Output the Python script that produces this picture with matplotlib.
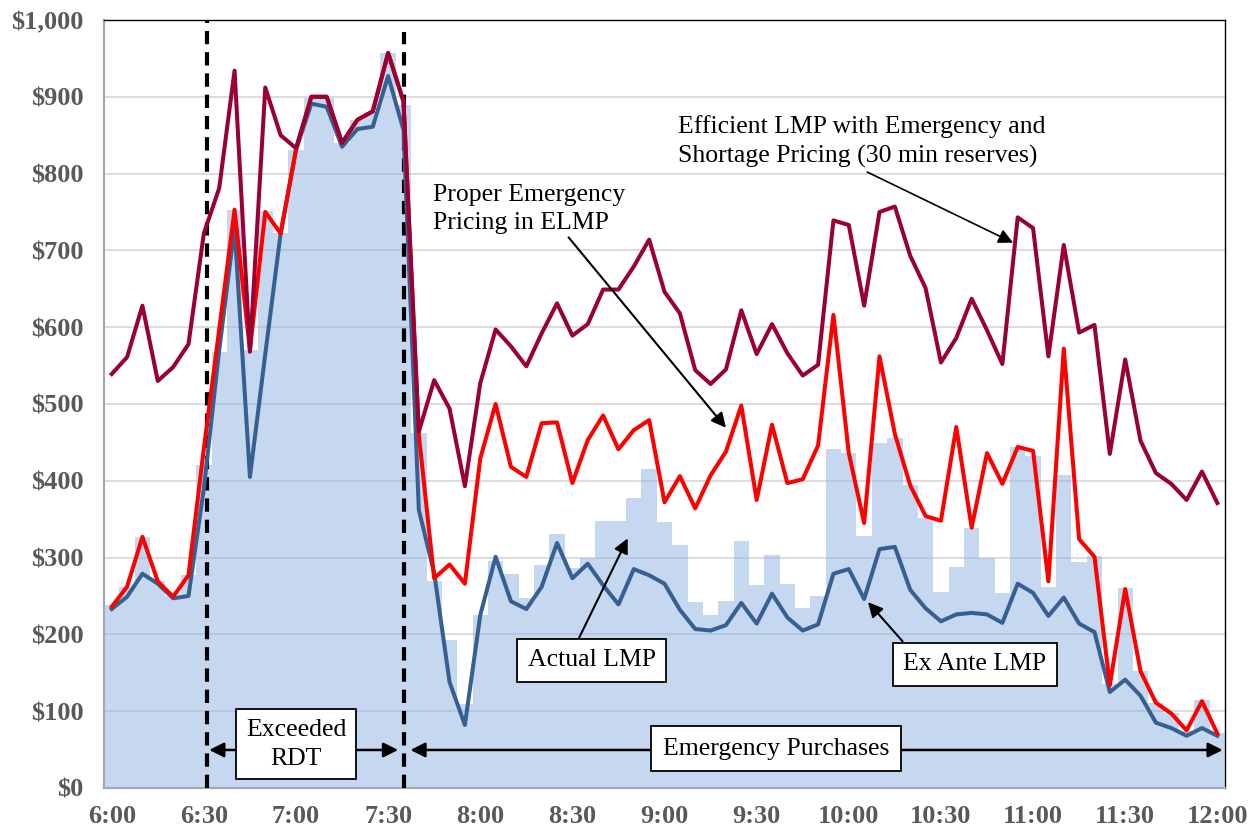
import numpy as np
import matplotlib
matplotlib.use("Agg")
import matplotlib.pyplot as plt

# 5-minute intervals, 6:00 to 12:00
times = [f"{6 + m // 60}:{m % 60:02d}" for m in range(0, 361, 5)]
tick_labels = ["6:00", "6:30", "7:00", "7:30", "8:00", "8:30", "9:00",
               "9:30", "10:00", "10:30", "11:00", "11:30", "12:00"]

# Actual LMP (bars)
actual_lmp = [238, 262, 327, 269, 250, 277, 420, 568, 753, 570, 751, 722, 831,
              898, 898, 840, 870, 880, 957, 889, 462, 270, 193, 110, 225, 296,
              279, 248, 290, 331, 286, 300, 347, 347, 378, 415, 346, 316, 242,
              225, 244, 321, 264, 303, 265, 234, 250, 441, 436, 328, 449, 456,
              394, 351, 255, 288, 338, 300, 254, 444, 432, 262, 407, 294, 302,
              135, 260, 152, 111, 97, 74, 115, 71]

# Ex Ante LMP
ex_ante_lmp = [233, 249, 279, 266, 247, 250, 390, 570, 730, 405, 565, 722, 831,
               891, 887, 835, 858, 861, 927, 857, 362, 280, 138, 82, 225, 301,
               243, 233, 262, 319, 273, 292, 264, 239, 285, 277, 266, 232, 207,
               205, 212, 241, 214, 253, 222, 205, 213, 279, 285, 246, 311, 314,
               258, 234, 217, 226, 228, 226, 215, 266, 254, 224, 248, 214, 203,
               125, 141, 120, 85, 78, 68, 78, 68]

# Proper Emergency Pricing in ELMP
proper_elmp = [236, 262, 327, 269, 249, 277, 442, 597, 753, 570, 750, 722, 831,
               900, 900, 840, 870, 881, 957, 894, 460, 273, 291, 266, 429, 500,
               418, 405, 475, 476, 397, 453, 485, 441, 466, 479, 372, 406, 364,
               407, 438, 498, 375, 473, 397, 402, 446, 616, 436, 345, 562, 461,
               394, 354, 348, 470, 339, 436, 396, 444, 439, 269, 572, 324, 301,
               134, 259, 152, 111, 97, 75, 113, 71]

# Efficient LMP with Emergency and Shortage Pricing (30 min reserves)
efficient_lmp = [539, 561, 628, 530, 548, 578, 722, 781, 934, 568, 912, 850, 833,
                 900, 900, 840, 870, 881, 957, 894, 464, 531, 494, 393, 527, 597,
                 575, 549, 592, 631, 589, 604, 649, 649, 679, 714, 646, 618, 544,
                 526, 545, 622, 565, 604, 566, 537, 551, 739, 733, 628, 750, 757,
                 693, 651, 554, 586, 637, 596, 552, 743, 729, 562, 707, 593, 603,
                 435, 558, 452, 410, 396, 375, 412, 371]

plt.rcParams['font.family'] = ['Liberation Serif', 'DejaVu Serif']

fig = plt.figure(figsize=(12.55, 8.32), dpi=100)
ax = fig.add_axes([0.0829, 0.0529, 0.8932, 0.9231])

x = np.arange(len(times))
ax.bar(x, actual_lmp, width=1.0, color='#8DB3E2', alpha=0.5, zorder=3, linewidth=0)
ax.plot(x, ex_ante_lmp, color='#376092', lw=2.9, zorder=5)
ax.plot(x, proper_elmp, color='#FF0000', lw=2.9, zorder=6)
ax.plot(x, efficient_lmp, color='#990033', lw=2.9, zorder=7)

# period boundaries
ax.plot([6.2, 6.2], [0, 1000], color='black', lw=3, dashes=(3.2, 1.9), zorder=4, clip_on=False)
ax.plot([19.05, 19.05], [0, 984], color='black', lw=3, dashes=(3.2, 1.9), zorder=4, clip_on=False)

ax.set_xlim(-0.5, 72.5)
ax.set_ylim(0, 1000)
ax.set_xticks(x[::6])
ax.set_xticklabels(tick_labels)
yt = np.arange(0, 1001, 100)
ax.set_yticks(yt)
ax.set_yticklabels([f"${v:,}" for v in yt])
ax.tick_params(length=0, labelsize=19, labelcolor='#595959')
ax.tick_params(axis='y', pad=15)
ax.tick_params(axis='x', pad=12)
for lab in ax.get_xticklabels() + ax.get_yticklabels():
    lab.set_fontweight('bold')

ax.grid(axis='y', color='#D9D9D9', lw=1.3, zorder=1)
ax.set_axisbelow(True)
for s in ['left', 'bottom']:
    ax.spines[s].set_color('#A6A6A6')
    ax.spines[s].set_linewidth(1.6)
for s in ['top', 'right']:
    ax.spines[s].set_color('black')
    ax.spines[s].set_linewidth(1.0)

box = dict(boxstyle='square,pad=0.4', fc='white', ec='black', lw=1.3)
arrow = dict(arrowstyle='-|>', color='black', lw=1.5, mutation_scale=22, shrinkA=0, shrinkB=0)
txt = dict(fontsize=18.5, color='black', zorder=10)

# Exceeded RDT
ax.annotate('', xy=(6.35, 49.5), xytext=(18.65, 49.5),
            arrowprops=dict(arrowstyle='<|-|>', color='black', lw=1.8, mutation_scale=22,
                            shrinkA=0, shrinkB=0), zorder=9)
ax.text(12.0, 57, 'Exceeded\nRDT', ha='center', va='center',
        bbox=dict(boxstyle='square,pad=0.38', fc='white', ec='black', lw=1.3),
        linespacing=1.4, **txt)

# Emergency Purchases
ax.annotate('', xy=(19.45, 49.5), xytext=(72.35, 49.5),
            arrowprops=dict(arrowstyle='<|-|>', color='black', lw=1.8, mutation_scale=22,
                            shrinkA=0, shrinkB=0), zorder=9)
ax.text(43.25, 51, 'Emergency Purchases', ha='center', va='center',
        bbox=dict(boxstyle='square,pad=0.45', fc='white', ec='black', lw=1.3), **txt)

# Actual LMP
ax.annotate('', xy=(33.6, 325), xytext=(30.4, 194), arrowprops=arrow, zorder=9)
ax.text(31.25, 166, 'Actual LMP', ha='center', va='center', bbox=box, **txt)

# Ex Ante LMP
ax.annotate('', xy=(49.25, 242), xytext=(51.5, 191), arrowprops=arrow, zorder=9)
ax.text(56.2, 161, 'Ex Ante LMP', ha='center', va='center', bbox=box, **txt)

# Efficient LMP
ax.annotate('', xy=(58.7, 710), xytext=(49.2, 802),
            arrowprops=dict(arrowstyle='-|>', color='black', lw=1.2, mutation_scale=22,
                            shrinkA=0, shrinkB=0), zorder=9)
ax.text(36.9, 842, 'Efficient LMP with Emergency and\nShortage Pricing (30 min reserves)',
        ha='left', va='center', linespacing=1.4, **txt)

# Proper Emergency Pricing
ax.annotate('', xy=(40.0, 469), xytext=(29.75, 717), arrowprops=arrow, zorder=9)
ax.text(20.9, 754, 'Proper Emergency\nPricing in ELMP', ha='left', va='center',
        linespacing=1.4, **txt)

fig.savefig('out.png', dpi=100)
